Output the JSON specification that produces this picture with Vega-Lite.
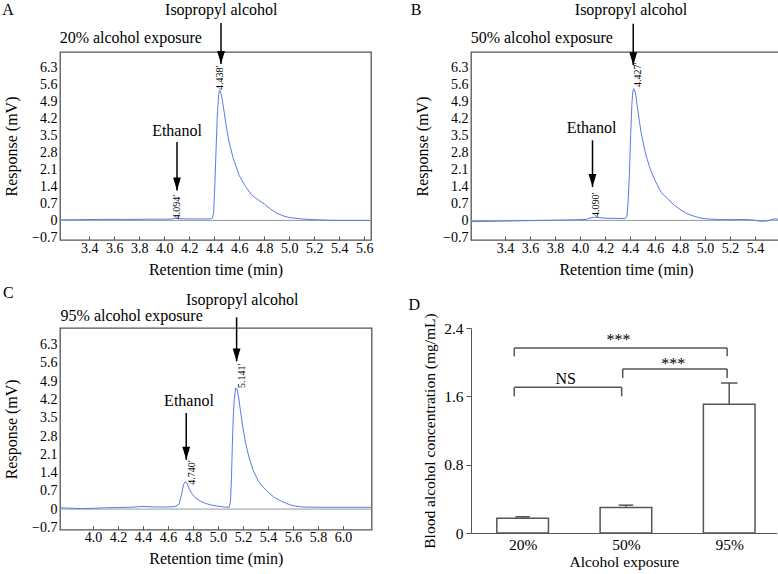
{
 "$schema": "https://vega.github.io/schema/vega-lite/v6.json",
 "background": "white",
 "padding": {"left": 1, "top": 1, "right": 0, "bottom": 0},
 "columns": 2,
 "align": "each",
 "spacing": {"row": 6, "column": 34},
 "config": {
  "font": "Liberation Serif",
  "axis": {"labelFont": "Liberation Serif", "titleFont": "Liberation Serif", "labelColor": "black", "titleColor": "black", "titleFontWeight": "normal", "grid": false, "labelFontSize": 14, "titleFontSize": 16, "tickColor": "#555", "domainColor": "#555", "labelOverlap": false, "labelFlush": false},
  "text": {"font": "Liberation Serif", "color": "black"}
 },
 "concat": [
  {
   "width": 311, "height": 188,
   "view": {"stroke": "#555", "strokeWidth": 1.3},
   "layer": [
    {"data": {"values": [{}]}, "mark": {"type": "rule", "color": "#999", "strokeWidth": 1}, "encoding": {"y": {"datum": 0, "type": "quantitative"}}},
    {"data": {"values": [
      {"t":3.17,"r":0.02},{"t":3.3,"r":0.03},{"t":3.5,"r":0.04},{"t":3.7,"r":0.04},{"t":3.9,"r":0.05},{"t":4.0,"r":0.05},{"t":4.06,"r":0.06},{"t":4.09,"r":0.09},{"t":4.12,"r":0.07},{"t":4.2,"r":0.06},{"t":4.3,"r":0.06},{"t":4.37,"r":0.06},{"t":4.385,"r":0.1},{"t":4.395,"r":0.3},{"t":4.405,"r":1.5},{"t":4.415,"r":3.0},{"t":4.425,"r":4.4},{"t":4.435,"r":5.2},{"t":4.443,"r":5.38},{"t":4.452,"r":5.3},{"t":4.465,"r":4.95},{"t":4.48,"r":4.45},{"t":4.5,"r":3.75},{"t":4.52,"r":3.2},{"t":4.55,"r":2.6},{"t":4.6,"r":1.85},{"t":4.65,"r":1.4},{"t":4.7,"r":1.05},{"t":4.75,"r":0.85},{"t":4.8,"r":0.68},{"t":4.85,"r":0.47},{"t":4.9,"r":0.3},{"t":4.95,"r":0.19},{"t":5.0,"r":0.12},{"t":5.1,"r":0.06},{"t":5.2,"r":0.03},{"t":5.3,"r":0.01},{"t":5.4,"r":0.0},{"t":5.5,"r":0.0},{"t":5.65,"r":0.0}
     ]},
     "mark": {"type": "line", "color": "#5a7be6", "strokeWidth": 1, "clip": true},
     "encoding": {
      "x": {"field": "t", "type": "quantitative", "scale": {"domain": [3.166, 5.654], "nice": false, "zero": false},
            "axis": {"values": [3.4,3.6,3.8,4.0,4.2,4.4,4.6,4.8,5.0,5.2,5.4,5.6], "tickCount": 100, "format": ".1f", "title": "Retention time (min)", "tickSize": -4, "domain": false, "labelPadding": 5, "titlePadding": 6}},
      "y": {"field": "r", "type": "quantitative", "scale": {"domain": [-0.81, 6.96], "nice": false, "zero": false},
            "axis": {"values": [-0.7,0,0.7,1.4,2.1,2.8,3.5,4.2,4.9,5.6,6.3], "tickCount": 100, "labelExpr": "datum.value == 0 ? '0' : format(datum.value, '.1f')", "ticks": false, "domain": false, "labelPadding": 3, "title": "Response (mV)", "titlePadding": 12}}
     }},
    {"data": {"values": [{"x":4.454,"top":8.16,"tip":6.46},{"x":4.102,"top":3.24,"tip":1.24}]},
     "mark": {"type": "rule", "color": "black", "strokeWidth": 1.5},
     "encoding": {"x": {"field": "x", "type": "quantitative"}, "y": {"field": "top", "type": "quantitative"}, "y2": {"field": "tip"}}},
    {"data": {"values": [{"x":4.454,"tip":6.46},{"x":4.102,"tip":1.24}]},
     "mark": {"type": "point", "shape": "M-0.6,-2L0.6,-2L0,0Z", "filled": true, "color": "black", "opacity": 1, "size": 169},
     "encoding": {"x": {"field": "x", "type": "quantitative"}, "y": {"field": "tip", "type": "quantitative"}}},
    {"data": {"values": [{"x":4.456,"y":8.48,"label":"Isopropyl alcohol"},{"x":4.102,"y":3.49,"label":"Ethanol"},{"x":2.75,"y":8.5,"label":"A"}]},
     "mark": {"type": "text", "fontSize": 16, "align": "center", "baseline": "alphabetic"},
     "encoding": {"x": {"field": "x", "type": "quantitative"}, "y": {"field": "y", "type": "quantitative"}, "text": {"field": "label"}}},
    {"data": {"values": [{"x":3.163,"y":7.34,"label":"20% alcohol exposure"}]},
     "mark": {"type": "text", "fontSize": 16, "align": "left", "baseline": "alphabetic"},
     "encoding": {"x": {"field": "x", "type": "quantitative"}, "y": {"field": "y", "type": "quantitative"}, "text": {"field": "label"}}},
    {"data": {"values": [{"x":4.103,"y":0.05,"label":"4.094′"},{"x":4.446,"y":5.39,"label":"4.438′"}]},
     "mark": {"type": "text", "fontSize": 10, "angle": 270, "align": "left", "baseline": "middle"},
     "encoding": {"x": {"field": "x", "type": "quantitative"}, "y": {"field": "y", "type": "quantitative"}, "text": {"field": "label"}}}
   ]
  },
  {
   "width": 310, "height": 188,
   "view": {"stroke": "#555", "strokeWidth": 1.3},
   "layer": [
    {"data": {"values": [{}]}, "mark": {"type": "rule", "color": "#999", "strokeWidth": 1}, "encoding": {"y": {"datum": 0, "type": "quantitative"}}},
    {"data": {"values": [
      {"t":3.13,"r":-0.05},{"t":3.3,"r":-0.04},{"t":3.5,"r":-0.02},{"t":3.7,"r":0.0},{"t":3.9,"r":0.02},{"t":4.0,"r":0.03},{"t":4.05,"r":0.04},{"t":4.08,"r":0.1},{"t":4.11,"r":0.13},{"t":4.15,"r":0.12},{"t":4.2,"r":0.09},{"t":4.3,"r":0.08},{"t":4.36,"r":0.08},{"t":4.375,"r":0.15},{"t":4.385,"r":0.8},{"t":4.395,"r":1.9},{"t":4.405,"r":3.5},{"t":4.415,"r":4.8},{"t":4.422,"r":5.3},{"t":4.429,"r":5.44},{"t":4.437,"r":5.38},{"t":4.447,"r":5.15},{"t":4.46,"r":4.65},{"t":4.475,"r":4.1},{"t":4.49,"r":3.6},{"t":4.51,"r":3.1},{"t":4.53,"r":2.65},{"t":4.56,"r":2.15},{"t":4.6,"r":1.65},{"t":4.65,"r":1.15},{"t":4.7,"r":0.9},{"t":4.75,"r":0.65},{"t":4.8,"r":0.45},{"t":4.86,"r":0.27},{"t":4.92,"r":0.16},{"t":4.97,"r":0.09},{"t":5.02,"r":0.06},{"t":5.1,"r":0.04},{"t":5.2,"r":0.03},{"t":5.3,"r":0.04},{"t":5.38,"r":0.02},{"t":5.45,"r":-0.04},{"t":5.5,"r":-0.02},{"t":5.55,"r":0.06},{"t":5.6,"r":0.05}
     ]},
     "mark": {"type": "line", "color": "#5a7be6", "strokeWidth": 1, "clip": true},
     "encoding": {
      "x": {"field": "t", "type": "quantitative", "scale": {"domain": [3.128, 5.608], "nice": false, "zero": false},
            "axis": {"values": [3.4,3.6,3.8,4.0,4.2,4.4,4.6,4.8,5.0,5.2,5.4], "tickCount": 100, "format": ".1f", "title": "Retention time (min)", "tickSize": -4, "domain": false, "labelPadding": 5, "titlePadding": 6}},
      "y": {"field": "r", "type": "quantitative", "scale": {"domain": [-0.81, 6.96], "nice": false, "zero": false},
            "axis": {"values": [-0.7,0,0.7,1.4,2.1,2.8,3.5,4.2,4.9,5.6,6.3], "tickCount": 100, "labelExpr": "datum.value == 0 ? '0' : format(datum.value, '.1f')", "ticks": false, "domain": false, "labelPadding": 3, "title": "Response (mV)", "titlePadding": 12}}
     }},
    {"data": {"values": [{"x":4.426,"top":8.13,"tip":6.41},{"x":4.10,"top":3.31,"tip":1.38}]},
     "mark": {"type": "rule", "color": "black", "strokeWidth": 1.5},
     "encoding": {"x": {"field": "x", "type": "quantitative"}, "y": {"field": "top", "type": "quantitative"}, "y2": {"field": "tip"}}},
    {"data": {"values": [{"x":4.426,"tip":6.41},{"x":4.10,"tip":1.38}]},
     "mark": {"type": "point", "shape": "M-0.6,-2L0.6,-2L0,0Z", "filled": true, "color": "black", "opacity": 1, "size": 169},
     "encoding": {"x": {"field": "x", "type": "quantitative"}, "y": {"field": "tip", "type": "quantitative"}}},
    {"data": {"values": [{"x":4.408,"y":8.48,"label":"Isopropyl alcohol"},{"x":4.093,"y":3.6,"label":"Ethanol"},{"x":2.688,"y":8.5,"label":"B"}]},
     "mark": {"type": "text", "fontSize": 16, "align": "center", "baseline": "alphabetic"},
     "encoding": {"x": {"field": "x", "type": "quantitative"}, "y": {"field": "y", "type": "quantitative"}, "text": {"field": "label"}}},
    {"data": {"values": [{"x":3.125,"y":7.34,"label":"50% alcohol exposure"}]},
     "mark": {"type": "text", "fontSize": 16, "align": "left", "baseline": "alphabetic"},
     "encoding": {"x": {"field": "x", "type": "quantitative"}, "y": {"field": "y", "type": "quantitative"}, "text": {"field": "label"}}},
    {"data": {"values": [{"x":4.128,"y":0.14,"label":"4.090′"},{"x":4.466,"y":5.51,"label":"4.427′"}]},
     "mark": {"type": "text", "fontSize": 10, "angle": 270, "align": "left", "baseline": "middle"},
     "encoding": {"x": {"field": "x", "type": "quantitative"}, "y": {"field": "y", "type": "quantitative"}, "text": {"field": "label"}}}
   ]
  },
  {
   "width": 311.6, "height": 201.7,
   "view": {"stroke": "#555", "strokeWidth": 1.3},
   "layer": [
    {"data": {"values": [{}]}, "mark": {"type": "rule", "color": "#999", "strokeWidth": 1}, "encoding": {"y": {"datum": 0, "type": "quantitative"}}},
    {"data": {"values": [
      {"t":3.74,"r":0.05},{"t":3.9,"r":0.02},{"t":4.0,"r":0.03},{"t":4.1,"r":0.05},{"t":4.2,"r":0.06},{"t":4.3,"r":0.07},{"t":4.4,"r":0.1},{"t":4.5,"r":0.08},{"t":4.6,"r":0.08},{"t":4.66,"r":0.1},{"t":4.69,"r":0.2},{"t":4.71,"r":0.6},{"t":4.725,"r":0.95},{"t":4.74,"r":1.06},{"t":4.755,"r":0.95},{"t":4.77,"r":0.78},{"t":4.79,"r":0.6},{"t":4.82,"r":0.43},{"t":4.86,"r":0.3},{"t":4.9,"r":0.22},{"t":4.95,"r":0.15},{"t":5.0,"r":0.11},{"t":5.05,"r":0.08},{"t":5.09,"r":0.07},{"t":5.1,"r":0.3},{"t":5.108,"r":1.2},{"t":5.115,"r":2.5},{"t":5.122,"r":3.5},{"t":5.13,"r":4.2},{"t":5.141,"r":4.64},{"t":5.152,"r":4.6},{"t":5.165,"r":4.3},{"t":5.18,"r":3.75},{"t":5.2,"r":3.1},{"t":5.22,"r":2.55},{"t":5.25,"r":1.95},{"t":5.28,"r":1.5},{"t":5.32,"r":1.1},{"t":5.36,"r":0.85},{"t":5.4,"r":0.65},{"t":5.45,"r":0.45},{"t":5.5,"r":0.32},{"t":5.55,"r":0.21},{"t":5.6,"r":0.13},{"t":5.67,"r":0.08},{"t":5.8,"r":0.07},{"t":6.0,"r":0.07},{"t":6.23,"r":0.07}
     ]},
     "mark": {"type": "line", "color": "#5a7be6", "strokeWidth": 1, "clip": true},
     "encoding": {
      "x": {"field": "t", "type": "quantitative", "scale": {"domain": [3.736, 6.229], "nice": false, "zero": false},
            "axis": {"values": [4.0,4.2,4.4,4.6,4.8,5.0,5.2,5.4,5.6,5.8,6.0], "tickCount": 100, "format": ".1f", "title": "Retention time (min)", "tickSize": -4, "domain": false, "labelPadding": 5, "titlePadding": 6}},
      "y": {"field": "r", "type": "quantitative", "scale": {"domain": [-0.79, 6.94], "nice": false, "zero": false},
            "axis": {"values": [-0.7,0,0.7,1.4,2.1,2.8,3.5,4.2,4.9,5.6,6.3], "tickCount": 100, "labelExpr": "datum.value == 0 ? '0' : format(datum.value, '.1f')", "ticks": false, "domain": false, "labelPadding": 3, "title": "Response (mV)", "titlePadding": 12}}
     }},
    {"data": {"values": [{"x":5.149,"top":7.35,"tip":5.66},{"x":4.746,"top":3.68,"tip":1.89}]},
     "mark": {"type": "rule", "color": "black", "strokeWidth": 1.5},
     "encoding": {"x": {"field": "x", "type": "quantitative"}, "y": {"field": "top", "type": "quantitative"}, "y2": {"field": "tip"}}},
    {"data": {"values": [{"x":5.149,"tip":5.66},{"x":4.746,"tip":1.89}]},
     "mark": {"type": "point", "shape": "M-0.6,-2L0.6,-2L0,0Z", "filled": true, "color": "black", "opacity": 1, "size": 169},
     "encoding": {"x": {"field": "x", "type": "quantitative"}, "y": {"field": "tip", "type": "quantitative"}}},
    {"data": {"values": [{"x":5.194,"y":7.83,"label":"Isopropyl alcohol"},{"x":4.768,"y":3.94,"label":"Ethanol"},{"x":3.322,"y":8.09,"label":"C"}]},
     "mark": {"type": "text", "fontSize": 16, "align": "center", "baseline": "alphabetic"},
     "encoding": {"x": {"field": "x", "type": "quantitative"}, "y": {"field": "y", "type": "quantitative"}, "text": {"field": "label"}}},
    {"data": {"values": [{"x":3.741,"y":7.22,"label":"95% alcohol exposure"}]},
     "mark": {"type": "text", "fontSize": 16, "align": "left", "baseline": "alphabetic"},
     "encoding": {"x": {"field": "x", "type": "quantitative"}, "y": {"field": "y", "type": "quantitative"}, "text": {"field": "label"}}},
    {"data": {"values": [{"x":4.789,"y":0.93,"label":"4.740′"},{"x":5.194,"y":4.64,"label":"5.141′"}]},
     "mark": {"type": "text", "fontSize": 10, "angle": 270, "align": "left", "baseline": "middle"},
     "encoding": {"x": {"field": "x", "type": "quantitative"}, "y": {"field": "y", "type": "quantitative"}, "text": {"field": "label"}}}
   ]
  },
  {
   "width": 305.7, "height": 205,
   "view": {"stroke": null},
   "layer": [
    {"data": {"values": [{"g":1,"lo":0.75,"hi":1.25,"v":0.172,"e":0.19,"clo":0.93,"chi":1.07},{"g":2,"lo":1.75,"hi":2.25,"v":0.30,"e":0.326,"clo":1.93,"chi":2.07},{"g":3,"lo":2.75,"hi":3.25,"v":1.506,"e":1.756,"clo":2.92,"chi":3.08}]},
     "layer": [
      {"mark": {"type": "bar", "fill": "white", "stroke": "#555", "strokeWidth": 1.5},
       "encoding": {
        "x": {"field": "lo", "type": "quantitative", "scale": {"domain": [0.5, 3.46], "nice": false, "zero": false},
              "axis": {"values": [1,2,3], "tickCount": 100, "labelExpr": "datum.value == 1 ? '20%' : datum.value == 2 ? '50%' : '95%'", "tickSize": -5, "labelPadding": 9, "labelFontSize": 15.5, "title": "Alcohol exposure", "titleFontSize": 15.5, "titlePadding": 2}},
        "x2": {"field": "hi"},
        "y": {"field": "v", "type": "quantitative", "scale": {"domain": [0, 2.4], "nice": false},
              "axis": {"values": [0,0.8,1.6,2.4], "tickCount": 100, "labelExpr": "datum.value == 0 ? '0' : format(datum.value, '.1f')", "tickSize": 5, "labelPadding": 3, "labelFontSize": 15.5, "title": "Blood alcohol concentration (mg/mL)", "titleFontSize": 15.5, "titlePadding": 6}},
        "y2": {"datum": 0}
       }},
      {"mark": {"type": "rule", "color": "#555", "strokeWidth": 1.5},
       "encoding": {"x": {"field": "g", "type": "quantitative"}, "y": {"field": "v", "type": "quantitative"}, "y2": {"field": "e"}}},
      {"mark": {"type": "rule", "color": "#555", "strokeWidth": 1.5},
       "encoding": {"x": {"field": "clo", "type": "quantitative"}, "x2": {"field": "chi"}, "y": {"field": "e", "type": "quantitative"}}}
     ]},
    {"data": {"values": [
      {"x1":0.919,"y1":2.068,"x2":0.919,"y2":2.166},{"x1":0.919,"y1":2.166,"x2":2.98,"y2":2.166},{"x1":2.98,"y1":2.166,"x2":2.98,"y2":2.068},
      {"x1":1.969,"y1":1.815,"x2":1.969,"y2":1.92},{"x1":1.969,"y1":1.92,"x2":2.98,"y2":1.92},{"x1":2.98,"y1":1.92,"x2":2.98,"y2":1.815},
      {"x1":0.919,"y1":1.6,"x2":0.919,"y2":1.705},{"x1":0.919,"y1":1.705,"x2":1.959,"y2":1.705},{"x1":1.959,"y1":1.705,"x2":1.959,"y2":1.6}
     ]},
     "mark": {"type": "rule", "color": "#555", "strokeWidth": 1.5},
     "encoding": {"x": {"field": "x1", "type": "quantitative"}, "x2": {"field": "x2"}, "y": {"field": "y1", "type": "quantitative"}, "y2": {"field": "y2"}}},
    {"data": {"values": [{"x":1.927,"y":2.2,"label":"***"},{"x":2.458,"y":1.916,"label":"***"},{"x":1.417,"y":1.748,"label":"NS"},{"x":-0.049,"y":2.615,"label":"D"}]},
     "mark": {"type": "text", "fontSize": 16, "align": "center", "baseline": "alphabetic"},
     "encoding": {"x": {"field": "x", "type": "quantitative"}, "y": {"field": "y", "type": "quantitative"}, "text": {"field": "label"}}}
   ]
  }
 ]
}
